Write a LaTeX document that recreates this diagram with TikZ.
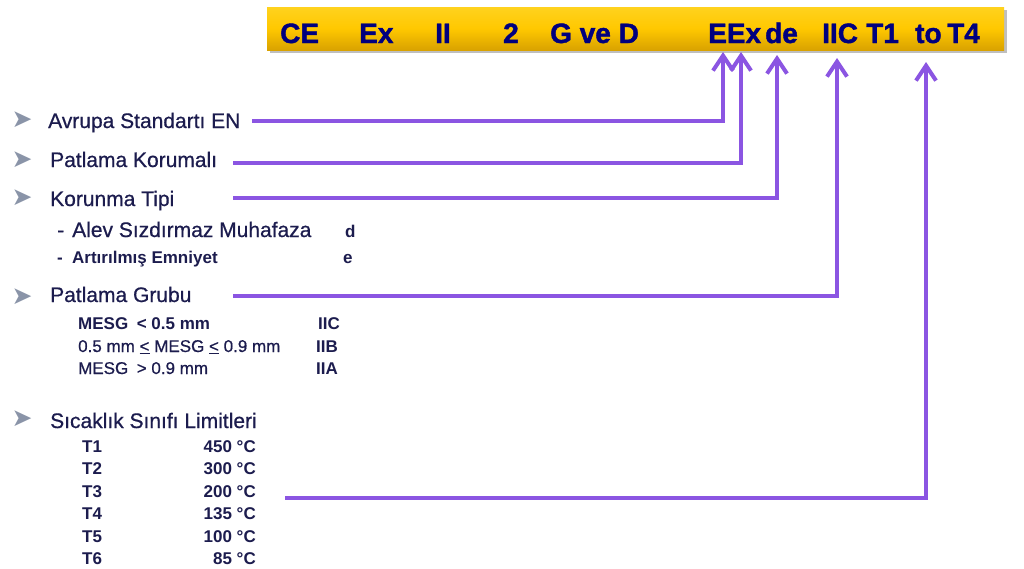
\documentclass[tikz,border=0pt]{standalone}
\usepackage{fontspec}
\setmainfont{Liberation Sans}
\newfontfamily\headfont{Liberation Sans}[FakeBold=0.6]
\newfontfamily\bannerfont{Liberation Sans Bold}[FakeBold=1.5]
\newfontfamily\dingfont{DejaVu Sans}
\usetikzlibrary{calc,arrows.meta}
\definecolor{navy}{HTML}{1C1C4E}
\definecolor{bannerblue}{HTML}{00007E}
\definecolor{gold}{HTML}{FFC800}
\definecolor{goldlight}{HTML}{FFD21E}
\definecolor{golddark}{HTML}{D9A200}
\definecolor{lilac}{HTML}{8B55E2}
\definecolor{bulletgray}{HTML}{8A94A8}

\begin{document}
\begin{tikzpicture}[x=1pt,y=-1pt,
    conn/.style={draw=lilac,line width=4pt,-{Straight Barb[length=15pt,width=20pt]}},
    ban/.style={anchor=base west,inner sep=0pt,text=bannerblue,font=\bannerfont\fontsize{28}{30}\selectfont},
    head/.style={anchor=base west,inner sep=0pt,text=navy,font=\headfont\fontsize{21}{24}\selectfont},
    sub/.style={anchor=base west,inner sep=0pt,text=navy,font=\headfont\fontsize{17}{20}\selectfont},
    subb/.style={sub,font=\bfseries\fontsize{17}{20}\selectfont},
    bul/.style={inner sep=0pt,text=bulletgray,font=\dingfont\fontsize{25}{27}\selectfont}]
      \useasboundingbox[fill=white](0,0)rectangle(1024,568);

      % banner
      \fill[black!25](270,10)rectangle(1007,53);
      \shade[top color=goldlight,bottom color=golddark,middle color=gold](267,7)rectangle(1004,50);
      \node[ban](CE) at (280,43){CE};
      \node[ban](EX) at (359,43){Ex};
      \node[ban](II) at (435,43){II};
      \node[ban](ZW) at (503,43){2};
      \node[ban](GD) at (550,43){G ve D};
      \node[ban](EEX) at (708,43){EEx};
      \node[ban](DE) at (765,43){de};
      \node[ban](IIC) at (822,43){IIC};
      \node[ban](TA) at (866,43){T1};
      \node[ban](TO) at (915,43){to};
      \node[ban](TB) at (947,43){T4};

      % arrow tips below the banner
      \coordinate(N1) at (723,52);
      \coordinate(N2) at (741,52);
      \coordinate(N3) at (777,55);
      \coordinate(N4) at (837,58);
      \coordinate(N5) at (926,62);

      % headings
      \node[bul](B1) at (22,120){➤};
      \node[bul](B2) at (22,160){➤};
      \node[bul](B3) at (22,198){➤};
      \node[bul](B4) at (22,297){➤};
      \node[bul](B5) at (22,419){➤};
      \node[head](EN) at (48,128){Avrupa Standartı EN};
      \node[head](PK) at (50,167){Patlama Korumalı};
      \node[head](KT) at (50,206){Korunma Tipi};
      \node[head](PG) at (50,302){Patlama Grubu};
      \node[head](SS) at (50,428){Sıcaklık Sınıfı Limitleri};

      % protection types
      \node[head](D1) at (57,237){-};
      \node[head](AL) at (72,237){Alev Sızdırmaz Muhafaza};
      \node[subb](D2) at (57,263){-};
      \node[subb](AE) at (72,263){Artırılmış Emniyet};
      \node[subb](LD) at (345,237){d};
      \node[subb](LE) at (343,263){e};

      % gas groups
      \node[subb](M1) at (78,329){MESG\enspace< 0.5 mm};
      \node[sub](M2) at (78,352){0.5 mm \underline{<} MESG \underline{<} 0.9 mm};
      \node[sub](M3) at (78,374){MESG\enspace> 0.9 mm};
      \node[subb](G1) at (318,329){IIC};
      \node[subb](G2) at (316,352){IIB};
      \node[subb](G3) at (316,374){IIA};

      % temperature classes
      \node[subb](T1) at (82,452){T1};
      \node[subb](T2) at (82,474){T2};
      \node[subb](T3) at (82,497){T3};
      \node[subb](T4) at (82,519){T4};
      \node[subb](T5) at (82,542){T5};
      \node[subb](T6) at (82,564){T6};
      \node[subb,anchor=base east](V1) at (256,452){450 °C};
      \node[subb,anchor=base east](V2) at (256,474){300 °C};
      \node[subb,anchor=base east](V3) at (256,497){200 °C};
      \node[subb,anchor=base east](V4) at (256,519){135 °C};
      \node[subb,anchor=base east](V5) at (256,542){100 °C};
      \node[subb,anchor=base east](V6) at (256,564){85 °C};

      % connectors
      \coordinate(S1) at (252,121);
      \coordinate(S2) at (233,163);
      \coordinate(S3) at (233,198);
      \coordinate(S4) at (233,296);
      \coordinate(S5) at (285,498);
      \draw[conn](S1)-|(N1);
      \draw[conn](S2)-|(N2);
      \draw[conn](S3)-|(N3);
      \draw[conn](S4)-|(N4);
      \draw[conn](S5)-|(N5);
    \end{tikzpicture}
\end{document}
